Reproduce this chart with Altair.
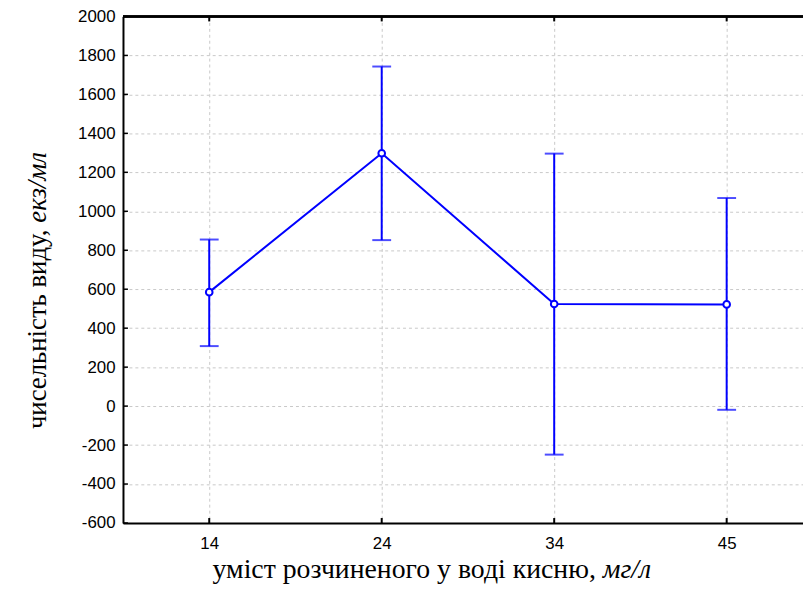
import altair as alt
import pandas as pd

conc = ["14", "24", "34", "45"]
mean = [585, 1298, 524, 522]
upper = [855, 1743, 1296, 1068]
lower = [308, 852, -249, -19]
y_ticks = list(range(-600, 2001, 200))

df = pd.DataFrame({"conc": conc, "mean": mean, "upper": upper, "lower": lower})
tick_df = pd.DataFrame({"t": y_ticks})

W, H = 686, 511
BLUE = "#0000ff"

xs = alt.Scale(type="point", domain=conc, range=[0, 696], padding=0.5)
ys = alt.Scale(domain=[-600, 2000], nice=False, zero=False)

xaxis = alt.Axis(title=None, labelFont="Liberation Sans", labelFontSize=17, labelColor="#000",
                 labelAngle=0, tickSize=0, labelPadding=13, domainColor="#000", domainWidth=2,
                 grid=True, gridColor="#c8c8c8", gridDash=[3, 3], gridWidth=1)
yaxis = alt.Axis(title=None, values=y_ticks, labelFont="Liberation Sans", labelFontSize=17,
                 labelColor="#000", tickSize=0, labelPadding=8, domainColor="#000", domainWidth=2,
                 labelOverlap=False, labelExpr="'' + datum.value",
                 grid=True, gridColor="#c8c8c8", gridDash=[3, 3], gridWidth=1)


def X():
    return alt.X("conc:O", scale=xs, sort=conc, axis=xaxis)


def Y(f):
    return alt.Y(f, scale=ys, axis=yaxis)


base = alt.Chart(df)

bars = base.mark_rule(color=BLUE, strokeWidth=2).encode(
    x=X(), y=Y("lower:Q"), y2="upper:Q")
caps_up = base.mark_tick(color=BLUE, thickness=2, size=19, orient="horizontal").encode(
    x=X(), y=Y("upper:Q"))
caps_lo = base.mark_tick(color=BLUE, thickness=2, size=19, orient="horizontal").encode(
    x=X(), y=Y("lower:Q"))
line = base.mark_line(color=BLUE, strokeWidth=2).encode(x=X(), y=Y("mean:Q"))
pts = base.mark_point(shape="circle", filled=True, fill="white", stroke=BLUE, strokeWidth=2,
                      size=45, opacity=1).encode(x=X(), y=Y("mean:Q"))

# inward ticks
yt = alt.Chart(tick_df).mark_rule(color="#000", strokeWidth=1.5).encode(
    y=Y("t:Q"), x=alt.value(0), x2=alt.value(5))
xt_b = base.mark_rule(color="#000", strokeWidth=2).encode(
    x=X(), y=alt.value(H - 5), y2=alt.value(H))
xt_t = base.mark_rule(color="#000", strokeWidth=2).encode(
    x=X(), y=alt.value(0), y2=alt.value(5))
top = base.mark_rule(color="#000", strokeWidth=2).encode(
    x=alt.value(0), x2=alt.value(700), y=alt.value(0))

# axis titles (mixed roman / italic)
TF = 27
XF = 28
xt1 = alt.Chart(pd.DataFrame({"s": ["уміст розчиненого у воді кисню,"]})).mark_text(
    font="Liberation Serif", fontSize=XF, align="right", baseline="alphabetic", color="#000").encode(
    text="s:N", x=alt.value(477), y=alt.value(566))
xt2 = alt.Chart(pd.DataFrame({"s": ["мг/л"]})).mark_text(
    font="Liberation Serif", fontSize=XF, fontStyle="italic", align="left", baseline="alphabetic",
    color="#000").encode(text="s:N", x=alt.value(484), y=alt.value(566))
yt1 = alt.Chart(pd.DataFrame({"s": ["чисельність виду,"]})).mark_text(
    font="Liberation Serif", fontSize=TF, align="right", baseline="alphabetic", angle=270,
    color="#000").encode(text="s:N", x=alt.value(-78), y=alt.value(215))
yt2 = alt.Chart(pd.DataFrame({"s": ["екз/мл"]})).mark_text(
    font="Liberation Serif", fontSize=TF, fontStyle="italic", align="left", baseline="alphabetic",
    angle=270, color="#000").encode(text="s:N", x=alt.value(-78), y=alt.value(208))

chart = alt.layer(bars, caps_up, caps_lo, line, pts, yt, xt_b, xt_t, top, xt1, xt2, yt1, yt2).properties(
    width=W, height=H,
    autosize=alt.AutoSizeParams(type="none"),
    padding={"left": 116, "top": 6, "right": 0, "bottom": 59},
).configure_view(stroke=None).configure(background="white")

chart.save("out.html", embed_options={"renderer": "svg", "actions": False})
